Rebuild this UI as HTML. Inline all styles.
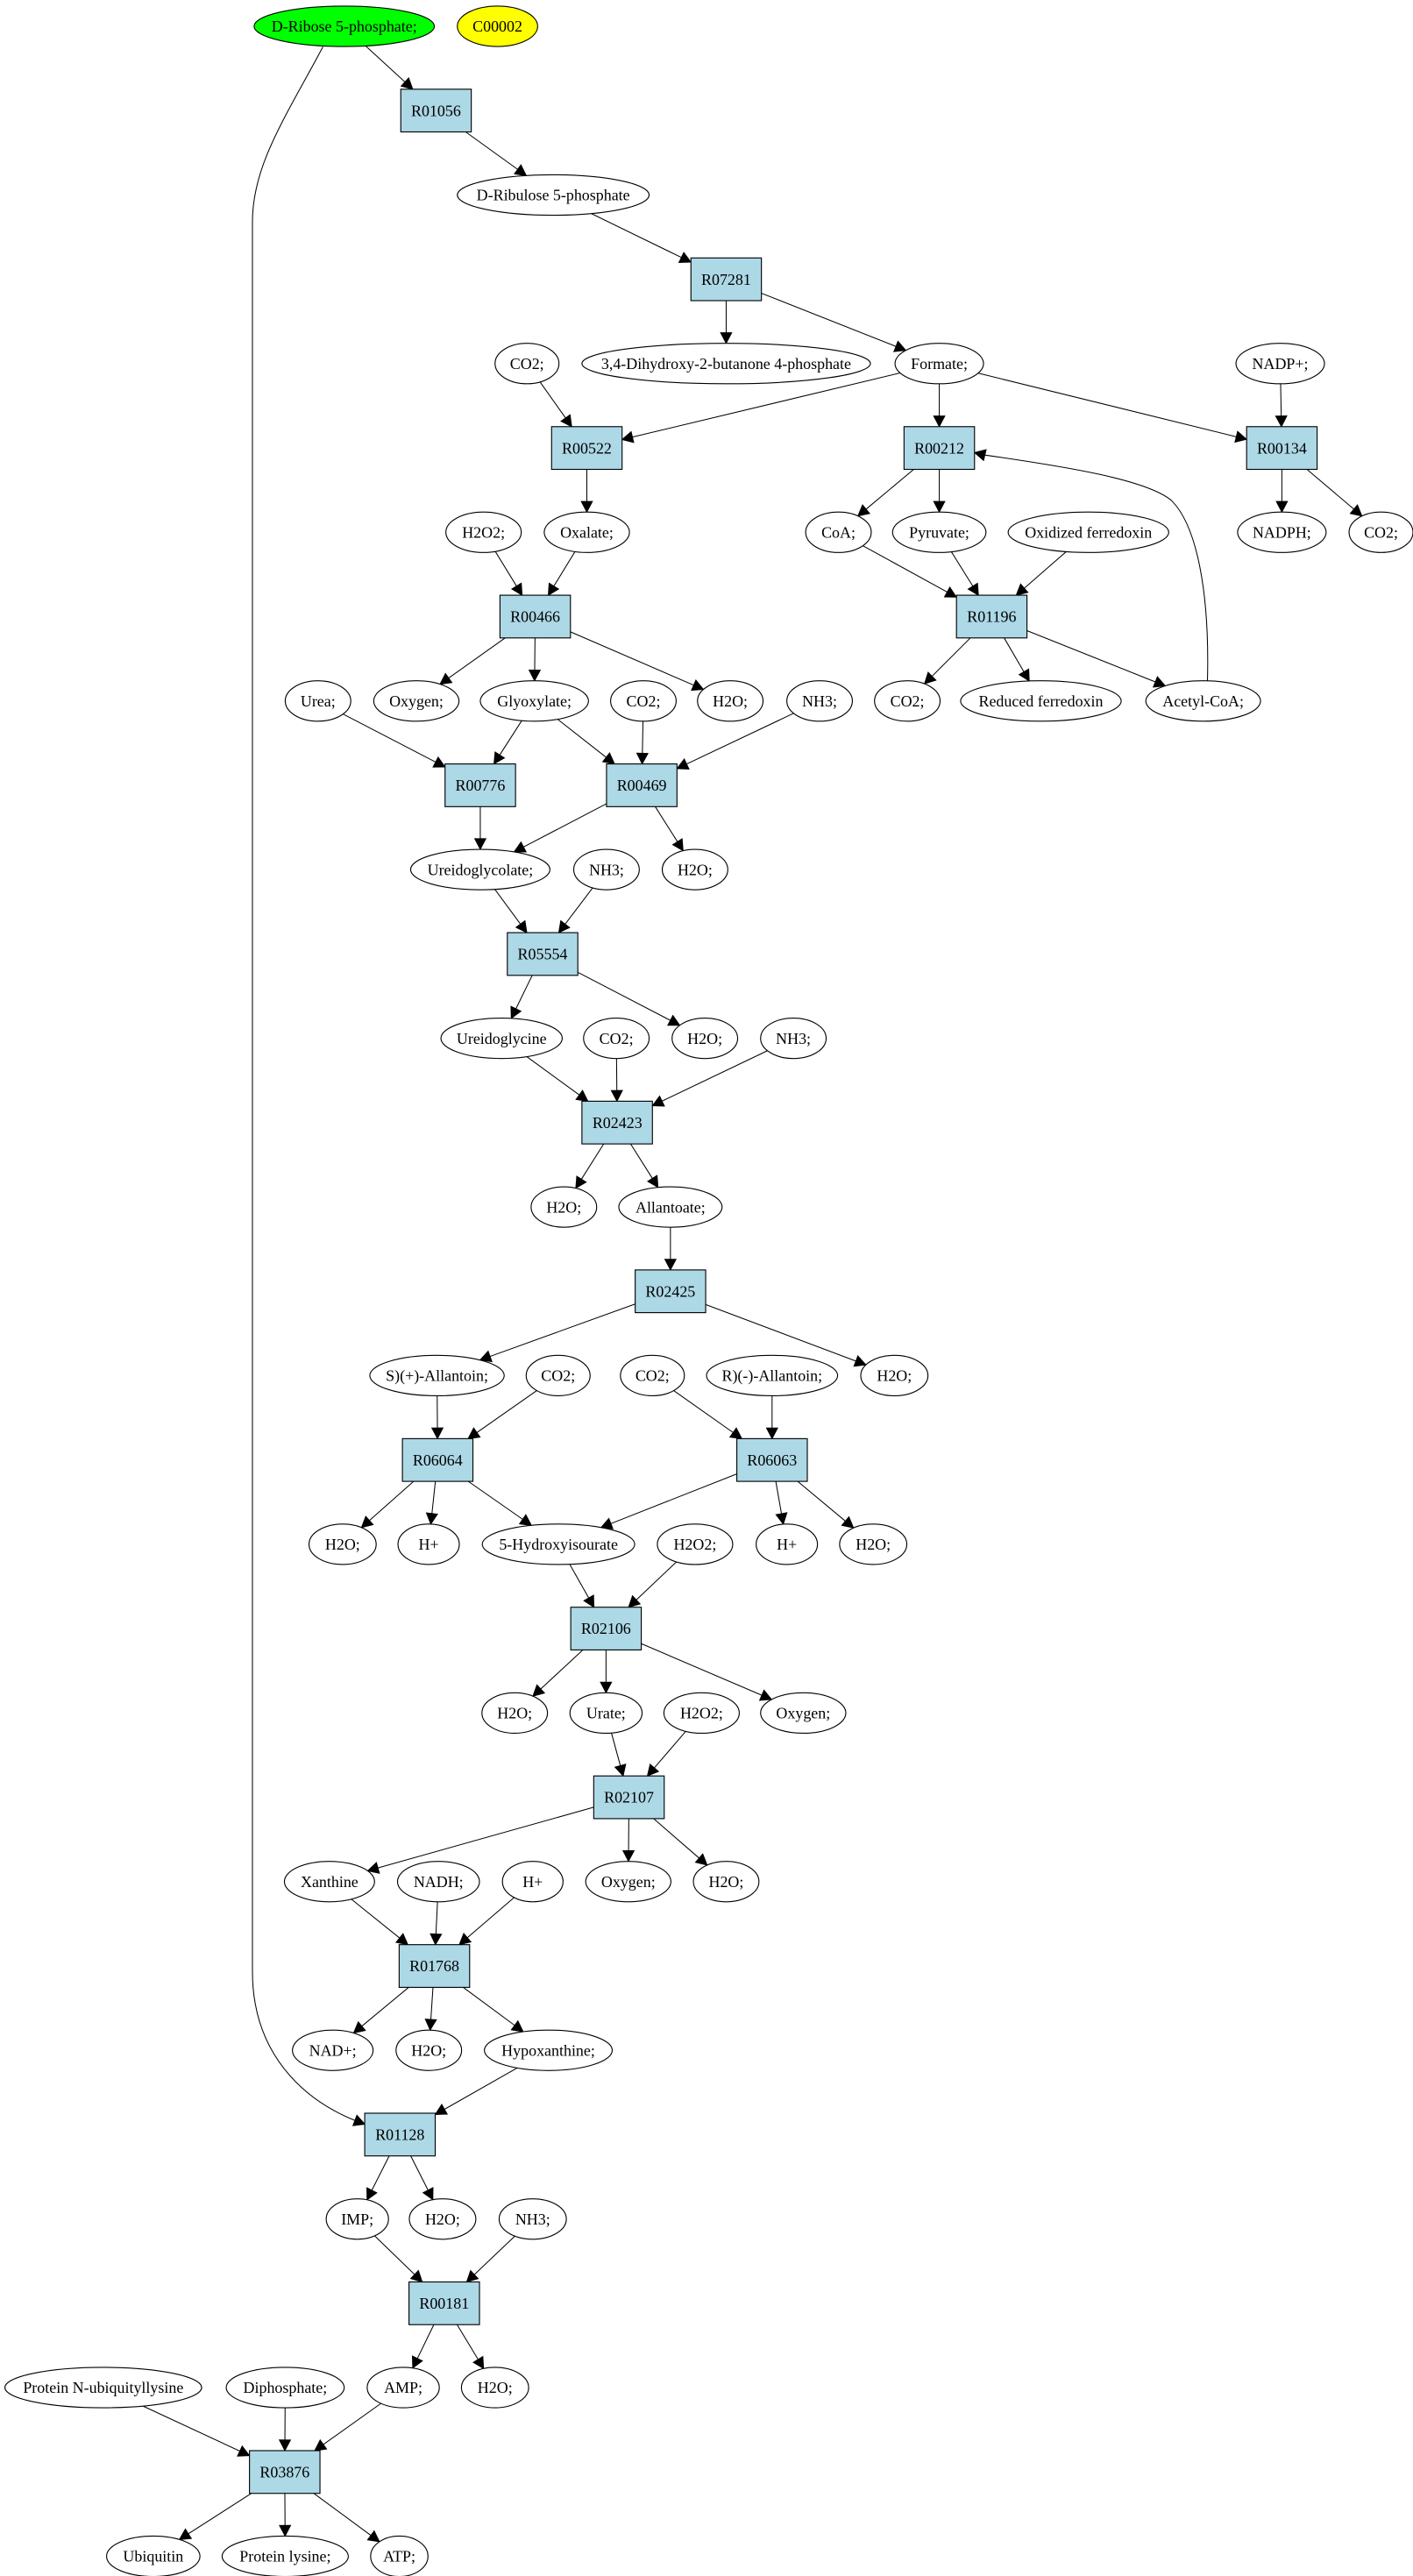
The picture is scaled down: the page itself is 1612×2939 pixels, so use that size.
<!DOCTYPE html>
<html><head><meta charset="utf-8"><style>
html,body{margin:0;padding:0;background:#fff;}
svg{display:block;}
text{font-family:"Liberation Serif","Times New Roman",serif;font-size:9.6px;text-anchor:middle;fill:#000;}
ellipse{fill:#fff;stroke:#000;stroke-width:0.6;}
rect{fill:#add8e6;stroke:#000;stroke-width:0.6;}
.e{stroke:#000;stroke-width:0.55;fill:none;}
.a{fill:#000;stroke:#000;stroke-width:0.5;}
</style></head><body>
<svg id="s" width="1612" height="2939" viewBox="0 0 862 1568" preserveAspectRatio="none" xmlns="http://www.w3.org/2000/svg">
<g id="edges"></g>
<g id="nodes">
<ellipse id="rib5p" cx="210" cy="16" rx="55" ry="12.3" style="fill:#00ff00"/><text x="210" y="19.3">D-Ribose 5-phosphate;</text>
<ellipse id="c2" cx="303.5" cy="16" rx="24.5" ry="12.3" style="fill:#ffff00"/><text x="303.5" y="19.3">C00002</text>

<rect id="R01056" x="244.5" y="54.3" width="43" height="26"/><text x="266" y="70.6">R01056</text>
<ellipse id="ru5p" cx="337.5" cy="118.7" rx="58.5" ry="12.3"/><text x="337.5" y="122">D-Ribulose 5-phosphate</text>
<rect id="R07281" x="421.5" y="157" width="43" height="26"/><text x="443" y="173.3">R07281</text>

<ellipse id="co2a" cx="321.5" cy="221.3" rx="19.5" ry="12.3"/><text x="321.5" y="224.6">CO2;</text>
<ellipse id="dhb" cx="443" cy="221.3" rx="88" ry="12.3"/><text x="443" y="224.6">3,4-Dihydroxy-2-butanone 4-phosphate</text>
<ellipse id="form" cx="573" cy="221.3" rx="27" ry="12.3"/><text x="573" y="224.6">Formate;</text>
<ellipse id="nadp" cx="781" cy="221.3" rx="27" ry="12.3"/><text x="781" y="224.6">NADP+;</text>

<rect id="R00522" x="336.5" y="259.7" width="43" height="26"/><text x="358" y="276">R00522</text>
<rect id="R00212" x="551.5" y="259.7" width="43" height="26"/><text x="573" y="276">R00212</text>
<rect id="R00134" x="760.5" y="259.7" width="43" height="26"/><text x="782" y="276">R00134</text>

<ellipse id="h2o2a" cx="295" cy="324" rx="23" ry="12.3"/><text x="295" y="327.3">H2O2;</text>
<ellipse id="oxal" cx="358" cy="324" rx="26" ry="12.3"/><text x="358" y="327.3">Oxalate;</text>
<ellipse id="coa" cx="511.5" cy="324" rx="20" ry="12.3"/><text x="511.5" y="327.3">CoA;</text>
<ellipse id="pyr" cx="573" cy="324" rx="28.5" ry="12.3"/><text x="573" y="327.3">Pyruvate;</text>
<ellipse id="oxf" cx="664" cy="324" rx="49" ry="12.3"/><text x="664" y="327.3">Oxidized ferredoxin</text>
<ellipse id="nadph" cx="782" cy="324" rx="27" ry="12.3"/><text x="782" y="327.3">NADPH;</text>
<ellipse id="co2b" cx="842.5" cy="324" rx="19.5" ry="12.3"/><text x="842.5" y="327.3">CO2;</text>

<rect id="R00466" x="305" y="362.3" width="43" height="26"/><text x="326.5" y="378.6">R00466</text>
<rect id="R01196" x="583.5" y="362.3" width="43" height="26"/><text x="605" y="378.6">R01196</text>

<ellipse id="urea" cx="194" cy="426.7" rx="20" ry="12.3"/><text x="194" y="430">Urea;</text>
<ellipse id="oxy1" cx="254" cy="426.7" rx="26" ry="12.3"/><text x="254" y="430">Oxygen;</text>
<ellipse id="glyox" cx="326" cy="426.7" rx="33" ry="12.3"/><text x="326" y="430">Glyoxylate;</text>
<ellipse id="co2c" cx="392.5" cy="426.7" rx="20" ry="12.3"/><text x="392.5" y="430">CO2;</text>
<ellipse id="h2oa" cx="445.5" cy="426.7" rx="20" ry="12.3"/><text x="445.5" y="430">H2O;</text>
<ellipse id="nh3a" cx="500" cy="426.7" rx="20" ry="12.3"/><text x="500" y="430">NH3;</text>
<ellipse id="co2d" cx="553.5" cy="426.7" rx="20" ry="12.3"/><text x="553.5" y="430">CO2;</text>
<ellipse id="redf" cx="635" cy="426.7" rx="49" ry="12.3"/><text x="635" y="430">Reduced ferredoxin</text>
<ellipse id="acoa" cx="734" cy="426.7" rx="35" ry="12.3"/><text x="734" y="430">Acetyl-CoA;</text>

<rect id="R00776" x="271.5" y="465" width="43" height="26"/><text x="293" y="481.3">R00776</text>
<rect id="R00469" x="370" y="465" width="43" height="26"/><text x="391.5" y="481.3">R00469</text>

<ellipse id="ugc" cx="293" cy="529.3" rx="42.5" ry="12.3"/><text x="293" y="532.6">Ureidoglycolate;</text>
<ellipse id="nh3b" cx="370" cy="529.3" rx="20" ry="12.3"/><text x="370" y="532.6">NH3;</text>
<ellipse id="h2ob" cx="424" cy="529.3" rx="20" ry="12.3"/><text x="424" y="532.6">H2O;</text>

<rect id="R05554" x="309.5" y="567.7" width="43" height="26"/><text x="331" y="584">R05554</text>

<ellipse id="ugly" cx="306" cy="632" rx="37" ry="12.3"/><text x="306" y="635.3">Ureidoglycine</text>
<ellipse id="co2e" cx="376" cy="632" rx="20" ry="12.3"/><text x="376" y="635.3">CO2;</text>
<ellipse id="h2oc" cx="430" cy="632" rx="20" ry="12.3"/><text x="430" y="635.3">H2O;</text>
<ellipse id="nh3c" cx="484" cy="632" rx="20" ry="12.3"/><text x="484" y="635.3">NH3;</text>

<rect id="R02423" x="355" y="670.3" width="43" height="26"/><text x="376.6" y="686.6">R02423</text>

<ellipse id="h2od" cx="344" cy="734.7" rx="20" ry="12.3"/><text x="344" y="738">H2O;</text>
<ellipse id="allo" cx="409" cy="734.7" rx="31.5" ry="12.3"/><text x="409" y="738">Allantoate;</text>

<rect id="R02425" x="387.5" y="773" width="43" height="26"/><text x="409" y="789.3">R02425</text>

<ellipse id="sall" cx="266.6" cy="837.3" rx="41" ry="12.3"/><text x="266.6" y="840.6">S)(+)-Allantoin;</text>
<ellipse id="co2f" cx="340.5" cy="837.3" rx="19.5" ry="12.3"/><text x="340.5" y="840.6">CO2;</text>
<ellipse id="co2g" cx="398" cy="837.3" rx="19.5" ry="12.3"/><text x="398" y="840.6">CO2;</text>
<ellipse id="rall" cx="471" cy="837.3" rx="40" ry="12.3"/><text x="471" y="840.6">R)(-)-Allantoin;</text>
<ellipse id="h2oe" cx="545.6" cy="837.3" rx="20.5" ry="12.3"/><text x="545.6" y="840.6">H2O;</text>

<rect id="R06064" x="245.5" y="875.7" width="43" height="26"/><text x="267" y="892">R06064</text>
<rect id="R06063" x="449.5" y="875.7" width="43" height="26"/><text x="471" y="892">R06063</text>

<ellipse id="h2of" cx="209" cy="940" rx="20.5" ry="12.3"/><text x="209" y="943.3">H2O;</text>
<ellipse id="hpa" cx="261.5" cy="940" rx="18.7" ry="12.3"/><text x="261.5" y="943.3">H+</text>
<ellipse id="hiu" cx="340.7" cy="940" rx="46.5" ry="12.3"/><text x="340.7" y="943.3">5-Hydroxyisourate</text>
<ellipse id="h2o2b" cx="424" cy="940" rx="23" ry="12.3"/><text x="424" y="943.3">H2O2;</text>
<ellipse id="hpb" cx="480" cy="940" rx="18.7" ry="12.3"/><text x="480" y="943.3">H+</text>
<ellipse id="h2og" cx="532.7" cy="940" rx="20.5" ry="12.3"/><text x="532.7" y="943.3">H2O;</text>

<rect id="R02106" x="348.2" y="978.3" width="43" height="26"/><text x="369.7" y="994.6">R02106</text>

<ellipse id="h2oh" cx="314" cy="1042.7" rx="20" ry="12.3"/><text x="314" y="1046">H2O;</text>
<ellipse id="urate" cx="369.7" cy="1042.7" rx="22" ry="12.3"/><text x="369.7" y="1046">Urate;</text>
<ellipse id="h2o2c" cx="428" cy="1042.7" rx="23" ry="12.3"/><text x="428" y="1046">H2O2;</text>
<ellipse id="oxy2" cx="490" cy="1042.7" rx="26" ry="12.3"/><text x="490" y="1046">Oxygen;</text>

<rect id="R02107" x="362.2" y="1081" width="43" height="26"/><text x="383.7" y="1097.3">R02107</text>

<ellipse id="xan" cx="201" cy="1145.3" rx="27.5" ry="12.3"/><text x="201" y="1148.6">Xanthine</text>
<ellipse id="nadh" cx="267.5" cy="1145.3" rx="25" ry="12.3"/><text x="267.5" y="1148.6">NADH;</text>
<ellipse id="hpc" cx="325" cy="1145.3" rx="18.5" ry="12.3"/><text x="325" y="1148.6">H+</text>
<ellipse id="oxy3" cx="383.3" cy="1145.3" rx="26" ry="12.3"/><text x="383.3" y="1148.6">Oxygen;</text>
<ellipse id="h2oi" cx="443" cy="1145.3" rx="20" ry="12.3"/><text x="443" y="1148.6">H2O;</text>

<rect id="R01768" x="243.5" y="1183.7" width="43" height="26"/><text x="265" y="1200">R01768</text>

<ellipse id="nad" cx="203" cy="1248" rx="24.6" ry="12.3"/><text x="203" y="1251.3">NAD+;</text>
<ellipse id="h2oj" cx="261.6" cy="1248" rx="20" ry="12.3"/><text x="261.6" y="1251.3">H2O;</text>
<ellipse id="hyp" cx="334.5" cy="1248" rx="39" ry="12.3"/><text x="334.5" y="1251.3">Hypoxanthine;</text>

<rect id="R01128" x="222.5" y="1286.3" width="43" height="26"/><text x="244" y="1302.6">R01128</text>

<ellipse id="imp" cx="218" cy="1350.7" rx="19" ry="12.3"/><text x="218" y="1354">IMP;</text>
<ellipse id="h2ok" cx="270" cy="1350.7" rx="20.3" ry="12.3"/><text x="270" y="1354">H2O;</text>
<ellipse id="nh3d" cx="325" cy="1350.7" rx="20.5" ry="12.3"/><text x="325" y="1354">NH3;</text>

<rect id="R00181" x="249.5" y="1389" width="43" height="26"/><text x="271" y="1405.3">R00181</text>

<ellipse id="pnu" cx="63" cy="1453.3" rx="60" ry="12.3"/><text x="63" y="1456.6">Protein N-ubiquityllysine</text>
<ellipse id="dip" cx="174" cy="1453.3" rx="36" ry="12.3"/><text x="174" y="1456.6">Diphosphate;</text>
<ellipse id="amp" cx="246" cy="1453.3" rx="22" ry="12.3"/><text x="246" y="1456.6">AMP;</text>
<ellipse id="h2ol" cx="302" cy="1453.3" rx="20.5" ry="12.3"/><text x="302" y="1456.6">H2O;</text>

<rect id="R03876" x="152.2" y="1491.7" width="43" height="26"/><text x="173.7" y="1508">R03876</text>

<ellipse id="ubi" cx="93.5" cy="1556" rx="28.5" ry="12.3"/><text x="93.5" y="1559.3">Ubiquitin</text>
<ellipse id="plys" cx="174" cy="1556" rx="38.5" ry="12.3"/><text x="174" y="1559.3">Protein lysine;</text>
<ellipse id="atp" cx="243.6" cy="1556" rx="17.5" ry="12.3"/><text x="243.6" y="1559.3">ATP;</text>
</g>
</svg>
<script>
(function(){
var NS="http://www.w3.org/2000/svg";
var eg=document.getElementById("edges");
function info(id){
 var el=document.getElementById(id);
 if(el.tagName.toLowerCase()==="ellipse"){
  return {t:"e",x:+el.getAttribute("cx"),y:+el.getAttribute("cy"),rx:+el.getAttribute("rx"),ry:+el.getAttribute("ry")};
 }
 var x=+el.getAttribute("x"),y=+el.getAttribute("y"),w=+el.getAttribute("width"),h=+el.getAttribute("height");
 return {t:"r",x:x+w/2,y:y+h/2,hw:w/2,hh:h/2};
}
function clip(n,dx,dy){
 var t;
 if(n.t==="e"){t=1/Math.sqrt((dx/n.rx)*(dx/n.rx)+(dy/n.ry)*(dy/n.ry));}
 else{var a=Math.abs(dx)<1e-9?1e9:n.hw/Math.abs(dx);var b=Math.abs(dy)<1e-9?1e9:n.hh/Math.abs(dy);t=Math.min(a,b);}
 return [n.x+dx*t,n.y+dy*t];
}
function add(tag,attrs){var e=document.createElementNS(NS,tag);for(var k in attrs)e.setAttribute(k,attrs[k]);eg.appendChild(e);return e;}
function arrow(tx,ty,fx,fy){
 var dx=tx-fx,dy=ty-fy,L=Math.sqrt(dx*dx+dy*dy);dx/=L;dy/=L;
 var len=6.5,hw=3.4;
 var bx=tx-dx*len,by=ty-dy*len;
 add("polygon",{"class":"a",points:tx+","+ty+" "+(bx-dy*hw)+","+(by+dx*hw)+" "+(bx+dy*hw)+","+(by-dx*hw)});
 return [bx,by];
}
function edge(a,b){
 var A=info(a),B=info(b);
 var dx=B.x-A.x,dy=B.y-A.y;
 var p=clip(A,dx,dy),q=clip(B,-dx,-dy);
 var base=arrow(q[0],q[1],p[0],p[1]);
 add("line",{"class":"e",x1:p[0],y1:p[1],x2:base[0],y2:base[1]});
}
var E=[
["rib5p","R01056"],["R01056","ru5p"],["ru5p","R07281"],["R07281","dhb"],["R07281","form"],
["co2a","R00522"],["form","R00522"],["form","R00212"],["form","R00134"],["nadp","R00134"],
["R00522","oxal"],["R00212","coa"],["R00212","pyr"],["R00134","nadph"],["R00134","co2b"],
["h2o2a","R00466"],["oxal","R00466"],["coa","R01196"],["pyr","R01196"],["oxf","R01196"],
["R00466","oxy1"],["R00466","glyox"],["R00466","h2oa"],["R01196","co2d"],["R01196","redf"],["R01196","acoa"],
["urea","R00776"],["glyox","R00776"],["glyox","R00469"],["co2c","R00469"],["nh3a","R00469"],
["R00776","ugc"],["R00469","ugc"],["R00469","h2ob"],
["ugc","R05554"],["nh3b","R05554"],["R05554","ugly"],["R05554","h2oc"],
["ugly","R02423"],["co2e","R02423"],["nh3c","R02423"],
["R02423","h2od"],["R02423","allo"],["allo","R02425"],
["R02425","sall"],["R02425","h2oe"],
["sall","R06064"],["co2f","R06064"],["co2g","R06063"],["rall","R06063"],
["R06064","h2of"],["R06064","hpa"],["R06064","hiu"],["R06063","hiu"],["R06063","hpb"],["R06063","h2og"],
["hiu","R02106"],["h2o2b","R02106"],
["R02106","h2oh"],["R02106","urate"],["R02106","oxy2"],
["urate","R02107"],["h2o2c","R02107"],
["R02107","xan"],["R02107","oxy3"],["R02107","h2oi"],
["xan","R01768"],["nadh","R01768"],["hpc","R01768"],
["R01768","nad"],["R01768","h2oj"],["R01768","hyp"],
["hyp","R01128"],["R01128","imp"],["R01128","h2ok"],
["imp","R00181"],["nh3d","R00181"],["R00181","amp"],["R00181","h2ol"],
["pnu","R03876"],["dip","R03876"],["amp","R03876"],
["R03876","ubi"],["R03876","plys"],["R03876","atp"]
];
for(var i=0;i<E.length;i++)edge(E[i][0],E[i][1]);
// long curve D-Ribose -> R01128
var b1=arrow(222.6,1293,212,1289);
add("path",{"class":"e",d:"M197,28.5 C175,70 154,100 154,135 L154,1200 C154,1250 185,1278 "+b1[0]+","+b1[1]});
// feedback Acetyl-CoA -> R00212
var b2=arrow(594.5,275.5,603,277.5);
add("path",{"class":"e",d:"M736.6,414.4 C738,360 730,320 714.8,304.8 C700,292 650,284 "+b2[0]+","+b2[1]});
})();
</script>
</body></html>
